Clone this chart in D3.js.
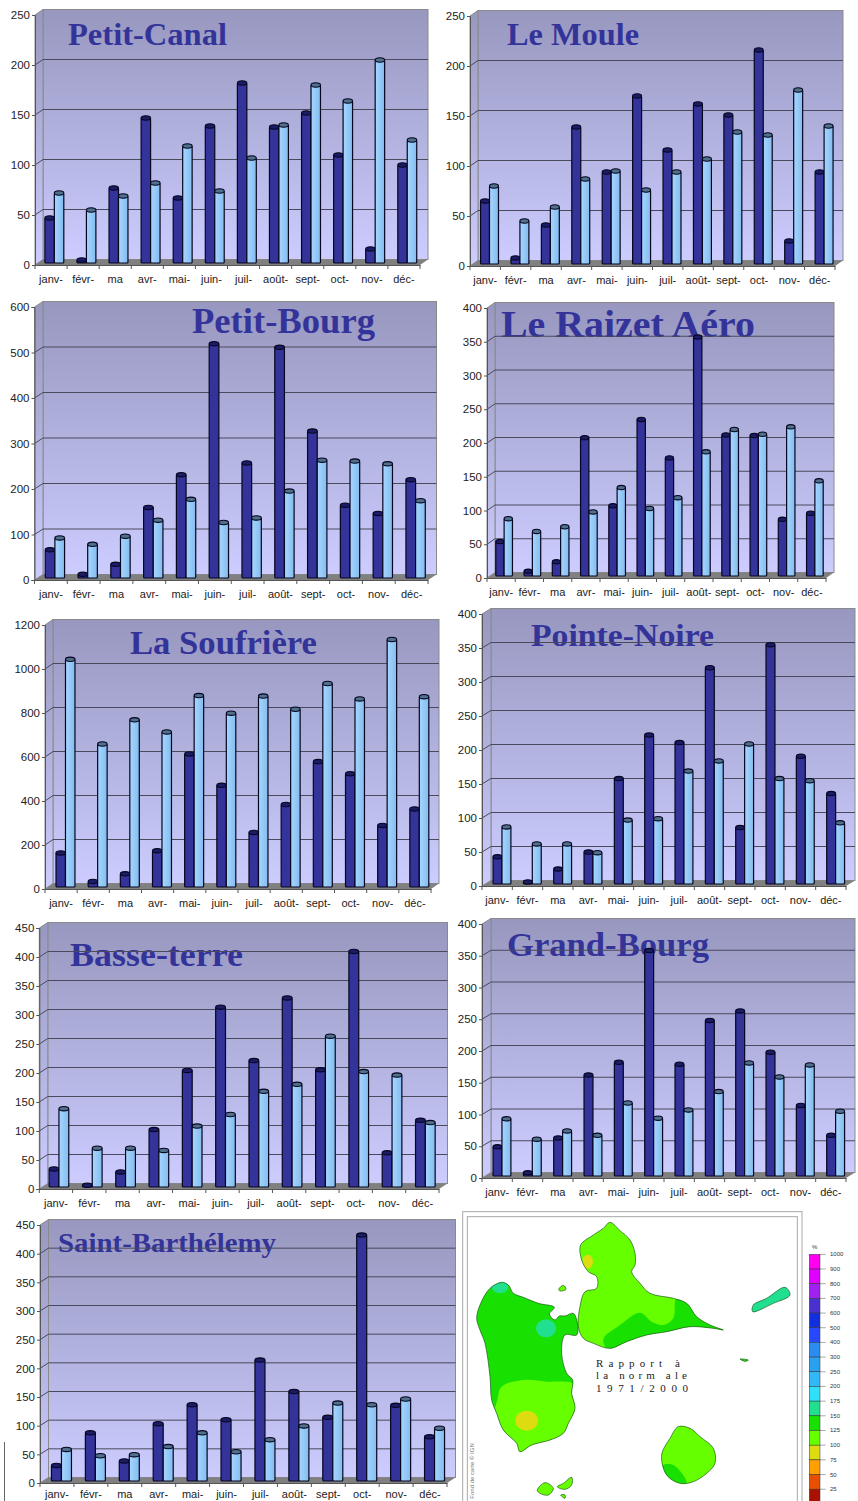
<!DOCTYPE html>
<html>
<head>
<meta charset="utf-8">
<title>Pluviométrie Guadeloupe</title>
<script src="https://cdnjs.cloudflare.com/ajax/libs/d3/7.8.5/d3.min.js"></script>
<style>
    html, body { margin: 0; padding: 0; background: white; }
    svg { display: block; }
    text { font-family: "Liberation Sans", Arial, sans-serif; }
    .axis text { fill: #222; font-size: 11.5px; }
    .axis.months text { font-size: 11px; }
    .chart-title { font-family: "Liberation Serif", serif; font-weight: bold; fill: #333399; }
    .map-text { font-family: "Liberation Serif", serif; font-size: 11px; fill: #222; }
</style>
</head>
<body>
<svg id="chart" width="858" height="1501"></svg>
<script>
// Months as printed under the charts (cut off in the original)
const months = ["janv-", "févr-", "ma", "avr-", "mai-", "juin-", "juil-", "août-", "sept-", "oct-", "nov-", "déc-"];

// Monthly rainfall, dark = year, light = normal (mm)
const petitCanalDark = [45, 3, 75, 145, 65, 137, 180, 136, 150, 108, 14, 98];
const petitCanalLight = [70, 53, 67, 80, 117, 72, 105, 138, 178, 162, 203, 123];
const leMouleDark = [63, 6, 39, 137, 92, 168, 114, 160, 149, 214, 23, 92];
const leMouleLight = [78, 43, 57, 85, 93, 74, 92, 105, 132, 129, 174, 138];
const petitBourgDark = [62, 8, 30, 155, 227, 515, 253, 507, 323, 160, 142, 216];
const petitBourgLight = [88, 74, 92, 127, 173, 122, 132, 191, 259, 257, 251, 170];
const raizetDark = [51, 7, 21, 205, 104, 232, 175, 354, 209, 208, 84, 93];
const raizetLight = [85, 66, 73, 95, 131, 100, 116, 184, 217, 210, 221, 141];
const soufriereDark = [155, 25, 60, 165, 605, 462, 248, 375, 570, 515, 280, 355];
const soufriereLight = [1035, 650, 760, 705, 870, 790, 868, 808, 925, 855, 1125, 865];
const pointeNoireDark = [40, 3, 22, 47, 155, 219, 208, 318, 83, 352, 188, 133];
const pointeNoireLight = [84, 59, 59, 46, 94, 96, 166, 181, 206, 155, 152, 90];
const basseTerreDark = [31, 3, 26, 99, 201, 310, 218, 326, 202, 406, 59, 115];
const basseTerreLight = [135, 67, 67, 63, 105, 125, 165, 177, 260, 199, 193, 111];
const grandBourgDark = [46, 5, 60, 159, 179, 355, 176, 245, 260, 195, 111, 64];
const grandBourgLight = [90, 58, 71, 64, 115, 91, 104, 133, 178, 156, 175, 102];
const stBarthDark = [27, 84, 35, 100, 133, 107, 211, 156, 111, 429, 132, 77];
const stBarthLight = [55, 44, 46, 60, 84, 51, 72, 96, 136, 133, 143, 92];

// Colour scale of the map, top to bottom
const legendLabels = [1000, 900, 800, 700, 600, 500, 400, 300, 250, 200, 175, 150, 125, 100, 75, 50, 25];
const legendColors = ["#ff00f0", "#e000ff", "#a020f0", "#4a30d0", "#1030e0", "#2848ff", "#2a8cf0", "#2aa0f0",
    "#30b8f8", "#30e0f8", "#20e090", "#18e000", "#66ff00", "#dcdc10", "#ffa000", "#e85000", "#a81000"];

// Island outlines, in pixels of a 3x crop of the map
const basseTerreShape = [[125,217],[145,225],[160,250],[190,262],[235,280],[283,292],[268,312],[285,330],[298,318],[315,318],[340,310],[352,340],[350,375],[315,375],[305,430],[320,490],[338,510],[335,550],[345,595],[325,640],[310,670],[270,690],[215,705],[180,725],[170,700],[130,660],[110,610],[95,570],[90,500],[75,400],[60,360],[50,325],[62,280],[90,235]];
const basseTerreSouth = [[112,570],[125,530],[190,510],[260,515],[345,525],[360,620],[300,720],[170,740],[100,640]];
const grandeTerreShape = [[450,37],[480,62],[510,90],[525,130],[525,165],[515,185],[540,220],[570,250],[640,265],[680,280],[710,320],[750,345],[790,360],[760,355],[690,350],[620,365],[560,375],[500,395],[450,415],[400,400],[370,385],[355,350],[360,290],[375,245],[410,235],[410,200],[385,185],[365,150],[362,105],[400,75],[430,55]];
const grandeTerreSouth = [[430,388],[480,345],[540,308],[575,335],[610,345],[640,325],[650,265],[700,290],[800,365],[600,410],[450,425]];
const desiradeShape = [[880,285],[920,265],[975,232],[990,255],[940,280],[878,305]];
const marieGalanteShape = [[655,650],[690,655],[720,680],[760,715],[765,760],[740,790],[700,815],[660,820],[620,795],[605,735],[630,685]];
const marieGalanteSouth = [[600,770],[640,765],[680,820],[620,815]];
const saintesShapes = [[[232,840],[255,818],[280,835],[265,855],[240,850]], [[292,830],[310,820],[335,802],[335,825],[315,838]], [[302,855],[315,855],[315,865]]];
const isletShapes = [[[840,447],[865,450],[855,454]], [[296,238],[310,226],[318,238],[300,243]]];

// layout of each chart: plot box, box depth (dx), bar offset (bx), title position and size
const panels = [
    { title: "Petit-Canal", dark: petitCanalDark, light: petitCanalLight, max: 250, step: 50, x0: 35, x1: 420, dx: 8, bx: 3.3, y0: 265, yTop: 15, tx: 68, ty: 45, tw: 159, ts: 32 },
    { title: "Le Moule", dark: leMouleDark, light: leMouleLight, max: 250, step: 50, x0: 470, x1: 835, dx: 8, bx: 4.3, y0: 266, yTop: 16, tx: 507, ty: 45, tw: 132, ts: 32 },
    { title: "Petit-Bourg", dark: petitBourgDark, light: petitBourgLight, max: 600, step: 100, x0: 34.5, x1: 428, dx: 8.5, bx: 4, y0: 580, yTop: 307, tx: 192, ty: 333, tw: 183, ts: 36 },
    { title: "Le Raizet Aéro", dark: raizetDark, light: raizetLight, max: 400, step: 50, x0: 487, x1: 826, dx: 8, bx: 3, y0: 578, yTop: 308, tx: 501, ty: 337, tw: 254, ts: 38, clipY: 337 },
    { title: "La Soufrière", dark: soufriereDark, light: soufriereLight, max: 1200, step: 200, x0: 45, x1: 431, dx: 8, bx: 4.4, y0: 889, yTop: 625, tx: 130, ty: 654, tw: 187, ts: 33 },
    { title: "Pointe-Noire", dark: pointeNoireDark, light: pointeNoireLight, max: 400, step: 50, x0: 482, x1: 846, dx: 9, bx: 4.8, y0: 886, yTop: 614, tx: 531, ty: 646, tw: 183, ts: 32 },
    { title: "Basse-terre", dark: basseTerreDark, light: basseTerreLight, max: 450, step: 50, x0: 39.3, x1: 439, dx: 8.5, bx: 3, y0: 1189, yTop: 928, tx: 70, ty: 966, tw: 173, ts: 33 },
    { title: "Grand-Bourg", dark: grandBourgDark, light: grandBourgLight, max: 400, step: 50, x0: 482, x1: 846, dx: 9, bx: 4.8, y0: 1178, yTop: 924, tx: 507, ty: 956, tw: 202, ts: 33 },
    { title: "Saint-Barthélemy", dark: stBarthDark, light: stBarthLight, max: 450, step: 50, x0: 40, x1: 447, dx: 8.5, bx: 4.5, y0: 1483, yTop: 1225, tx: 58, ty: 1252, tw: 218, ts: 28, labelPad: 7 }
];

// vertical depth of the fake 3D box
const depthY = 5.5;

let svg = d3.select("#chart");
let defs = svg.append("defs");

// Wall gradient, dark at the top and pale at the floor
let wall = defs.append("linearGradient")
    .attr("id", "wall")
    .attr("x1", 0).attr("y1", 0).attr("x2", 0).attr("y2", 1);
wall.append("stop").attr("offset", "0%").attr("stop-color", "#9797bf");
wall.append("stop").attr("offset", "100%").attr("stop-color", "#ccccff");

let barLight = defs.append("linearGradient")
    .attr("id", "barLight")
    .attr("x1", 0).attr("y1", 0).attr("x2", 1).attr("y2", 0);
barLight.append("stop").attr("offset", "0%").attr("stop-color", "#a6d6ff");
barLight.append("stop").attr("offset", "100%").attr("stop-color", "#84bcee");

// Draws one bar with a small ellipse on top
function drawBar(g, x, w, yTop, yBottom, fill, topFill) {
    g.append("rect")
        .attr("x", x)
        .attr("y", yTop)
        .attr("width", w)
        .attr("height", Math.max(yBottom - yTop, 0))
        .attr("rx", 1)
        .style("fill", fill)
        .style("stroke", "#060620")
        .style("stroke-width", 1.2);
    g.append("ellipse")
        .attr("cx", x + w / 2)
        .attr("cy", yTop)
        .attr("rx", w / 2)
        .attr("ry", 2.2)
        .style("fill", topFill)
        .style("stroke", "#060620")
        .style("stroke-width", 1.1);
}

function drawPanel(p, index) {
    let g = svg.append("g").attr("class", "panel");

    let xScale = d3.scaleBand().domain(months).range([p.x0, p.x1]);
    let yScale = d3.scaleLinear().domain([0, p.max]).range([p.y0, p.yTop]);
    let ticks = d3.range(0, p.max + 1, p.step);

    let xRight = p.x1 + p.dx;
    let xBack = p.x0 + p.dx;

    // back wall
    g.append("rect")
        .attr("x", xBack)
        .attr("y", p.yTop - depthY)
        .attr("width", xRight - xBack)
        .attr("height", p.y0 - p.yTop)
        .style("fill", "url(#wall)")
        .style("stroke", "#8a8a8a");

    // side wall
    g.append("path")
        .attr("d", d3.line()([[p.x0, p.yTop], [xBack, p.yTop - depthY], [xBack, p.y0 - depthY], [p.x0, p.y0]]) + "Z")
        .style("fill", "url(#wall)")
        .style("stroke", "#8a8a8a");

    // floor
    g.append("path")
        .attr("d", d3.line()([[p.x0, p.y0], [xBack, p.y0 - depthY], [xRight, p.y0 - depthY], [p.x1, p.y0]]) + "Z")
        .style("fill", "#808080");

    // title goes under the grid lines, one of them is cut off at a grid line
    let title = g.append("text")
        .attr("class", "chart-title")
        .attr("x", p.tx)
        .attr("y", p.ty)
        .attr("textLength", p.tw)
        .attr("lengthAdjust", "spacingAndGlyphs")
        .style("font-size", p.ts + "px")
        .text(p.title);
    if (p.clipY) {
        defs.append("clipPath").attr("id", "titleClip" + index)
            .append("rect")
            .attr("x", p.tx - 5)
            .attr("y", p.ty - p.ts)
            .attr("width", p.tw + 10)
            .attr("height", p.clipY - p.ty + p.ts);
        title.attr("clip-path", "url(#titleClip" + index + ")");
    }

    // grid lines, along the side wall and the back wall
    ticks.slice(1, -1).forEach((t) => {
        g.append("path")
            .attr("d", d3.line()([[p.x0, yScale(t)], [xBack, yScale(t) - depthY], [xRight, yScale(t) - depthY]]))
            .style("fill", "none")
            .style("stroke", "#4a4a5c")
            .style("stroke-width", 1);
    });

    // bars
    let barW = xScale.bandwidth() * 0.295;
    months.forEach((m, i) => {
        let mid = xScale(m) + xScale.bandwidth() / 2 + p.bx;
        drawBar(g, mid - barW, barW, yScale(p.dark[i]) - 2, yScale(0) - 2, "#333399", "#1c1c66");
        drawBar(g, mid, barW, yScale(p.light[i]) - 2, yScale(0) - 2, "url(#barLight)", "#50708c");
    });

    // axes
    let yAxis = d3.axisLeft(yScale).tickValues(ticks).tickFormat(d3.format("d")).tickSize(3).tickPadding(2);
    let yG = g.append("g")
        .attr("class", "axis")
        .attr("transform", "translate(" + p.x0 + ",0)")
        .call(yAxis);
    yG.selectAll("line, path").style("stroke", "#555");

    // the last chart sits on the bottom edge, its labels need to stay inside
    let xAxis = d3.axisBottom(xScale).tickSize(0).tickPadding(p.labelPad || 10);
    let xG = g.append("g")
        .attr("class", "axis months")
        .attr("transform", "translate(0," + p.y0 + ")")
        .call(xAxis);
    xG.selectAll("path").style("stroke", "#555");

    // separators between the months
    months.concat("end").forEach((m) => {
        let x = m == "end" ? p.x1 : xScale(m);
        g.append("line")
            .attr("x1", x).attr("x2", x)
            .attr("y1", p.y0).attr("y2", p.y0 + 4)
            .style("stroke", "#555");
    });
}

panels.forEach(drawPanel);

// ---- map, bottom right ----
let mapX = d3.scaleLinear().domain([0, 1194]).range([460, 858]);
let mapY = d3.scaleLinear().domain([0, 873]).range([1210, 1501]);
let outline = d3.line()
    .x((d) => mapX(d[0]))
    .y((d) => mapY(d[1]))
    .curve(d3.curveCatmullRomClosed.alpha(0.5));

let map = svg.append("g").attr("class", "map");

// double frame
[[8, 1026], [22, 1012]].forEach((f, i) => {
    map.append("rect")
        .attr("x", mapX(f[0]))
        .attr("y", mapY(i == 0 ? 5 : 20))
        .attr("width", mapX(f[1]) - mapX(f[0]))
        .attr("height", 400)
        .style("fill", "none")
        .style("stroke", "#a8a8a8");
});

function drawIsland(id, shape, fill, zones) {
    defs.append("clipPath").attr("id", id)
        .append("path").attr("d", outline(shape));
    map.append("path")
        .attr("d", outline(shape))
        .style("fill", fill);
    let inner = map.append("g").attr("clip-path", "url(#" + id + ")");
    zones(inner);
    map.append("path")
        .attr("d", outline(shape))
        .style("fill", "none")
        .style("stroke", "#1c5a1c")
        .style("stroke-width", 0.7);
}

function zoneBlob(g, cx, cy, rx, ry, fill) {
    g.append("ellipse")
        .attr("cx", mapX(cx)).attr("cy", mapY(cy))
        .attr("rx", rx / 3).attr("ry", ry / 3)
        .style("fill", fill);
}

const green = legendColors[11], lightGreen = legendColors[12], yellow = legendColors[13], teal = legendColors[10];

drawIsland("bt", basseTerreShape, green, (g) => {
    g.append("path").attr("d", outline(basseTerreSouth)).style("fill", lightGreen);
    zoneBlob(g, 200, 632, 34, 30, yellow);
    zoneBlob(g, 258, 355, 30, 27, teal);
    zoneBlob(g, 120, 232, 24, 18, teal);
});
drawIsland("gt", grandeTerreShape, lightGreen, (g) => {
    g.append("path").attr("d", outline(grandeTerreSouth)).style("fill", green);
    zoneBlob(g, 383, 155, 16, 21, yellow);
});
drawIsland("de", desiradeShape, teal, () => {});
drawIsland("mg", marieGalanteShape, lightGreen, (g) => {
    g.append("path").attr("d", outline(marieGalanteSouth)).style("fill", green);
});
saintesShapes.forEach((s, i) => drawIsland("sa" + i, s, lightGreen, () => {}));
isletShapes.forEach((s, i) => drawIsland("il" + i, s, i == 0 ? green : lightGreen, () => {}));

// the three lines are spread out to fixed widths like in the original
const mapLines = ["Rapport à", "la norm ale", "1971/2000"];
const mapLineWidths = [84, 91, 92];
mapLines.forEach((t, i) => {
    map.append("text")
        .attr("class", "map-text")
        .attr("x", mapX(408))
        .attr("y", mapY(470 + i * 38))
        .attr("textLength", mapLineWidths[i])
        .attr("lengthAdjust", "spacing")
        .text(t);
});

map.append("text")
    .attr("transform", "translate(" + mapX(43) + "," + mapY(866) + ") rotate(-90)")
    .style("font-size", "6px")
    .style("fill", "#777")
    .text("Fond de carte © IGN");

// colour legend
let legendY = d3.scaleBand()
    .domain(legendLabels)
    .range([mapY(133), mapY(133) + 14.68 * legendLabels.length]);
let legend = svg.append("g").attr("class", "legend");
legend.selectAll("rect")
    .data(legendLabels)
    .enter()
    .append("rect")
    .attr("x", mapX(1048))
    .attr("y", (d) => legendY(d))
    .attr("width", mapX(1080) - mapX(1048))
    .attr("height", legendY.bandwidth())
    .style("fill", (d, i) => legendColors[i])
    .style("stroke", "#333")
    .style("stroke-width", 0.5);
legend.selectAll("line")
    .data(legendLabels)
    .enter()
    .append("line")
    .attr("x1", mapX(1080)).attr("x2", mapX(1097))
    .attr("y1", (d) => legendY(d)).attr("y2", (d) => legendY(d))
    .style("stroke", "#555")
    .style("stroke-width", 0.5);
legend.selectAll("text.level")
    .data(legendLabels)
    .enter()
    .append("text")
    .attr("class", "level")
    .attr("x", mapX(1110))
    .attr("y", (d) => legendY(d) + 2)
    .style("font-size", "6px")
    .style("fill", "#333")
    .text((d) => d);
legend.append("text")
    .attr("x", mapX(1056))
    .attr("y", mapY(118))
    .style("font-size", "6px")
    .style("fill", "#333")
    .text("%");

// leftovers of the original scan, bottom left
svg.append("line")
    .attr("x1", 4.5).attr("x2", 4.5)
    .attr("y1", 1442).attr("y2", 1501)
    .style("stroke", "#666");
</script>
</body>
</html>
